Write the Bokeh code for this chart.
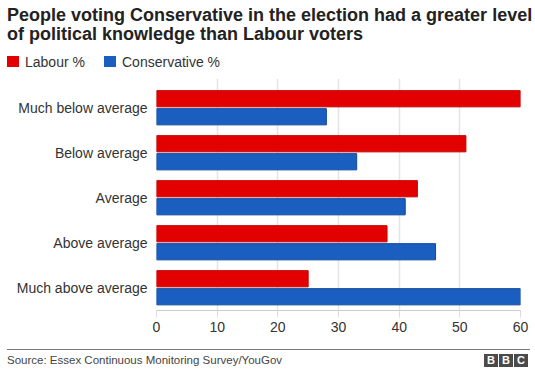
import numpy as np
from bokeh.plotting import figure
from bokeh.layouts import column
from bokeh.models import Range1d, FixedTicker, Div
from bokeh.embed import file_html
from bokeh.resources import INLINE

# ---- data ----
categories = ["Much below average", "Below average", "Average", "Above average", "Much above average"]
labour = [60, 51, 43, 38, 25]
conservative = [28, 33, 41, 46, 60]
x_ticks = [0, 10, 20, 30, 40, 50, 60]

title_lines = ["People voting Conservative in the election had a greater level",
               "of political knowledge than Labour voters"]
series_names = ["Labour %", "Conservative %"]
source_text = "Source: Essex Continuous Monitoring Survey/YouGov"
logo_letters = ["B", "B", "C"]

RED = "#e30000"
RED_EDGE = "#c40000"
BLUE = "#1a5ec0"
BLUE_EDGE = "#0f4a9e"
FONT = "Liberation Sans"
CSS_FONT = "'Liberation Sans', Arial, Helvetica, sans-serif"

W = 535
TOP_H = 70          # header block height
FIG_H = 270         # chart height
BOT_H = 38          # footer block height

FL, FR = 156, 520   # frame left/right (px)
FT, FB = 8, 240     # frame top/bottom inside chart figure (px)
Y0, YSTEP = 37.25, 45.0   # first category centre / spacing inside chart (px)
XMAX = 60

y_top = (FT - Y0) / YSTEP
y_bot = (FB - Y0) / YSTEP

# ---------------- header ----------------
legend_html = ""
for name, col, sq_left, tx in zip(series_names, [RED, BLUE], [7, 104], [25, 122]):
    legend_html += (f'<div style="position:absolute;left:{sq_left}px;top:56px;width:12px;height:11px;'
                    f'background:{col};"></div>'
                    f'<div style="position:absolute;left:{tx}px;top:54px;font-size:14px;line-height:16px;'
                    f'color:#333333;white-space:nowrap;">{name}</div>')

header_html = (f'<div style="position:relative;width:{W}px;height:{TOP_H}px;font-family:{CSS_FONT};">'
               f'<div style="position:absolute;left:7px;top:6px;font-size:18px;line-height:19px;'
               f'font-weight:bold;color:#222222;white-space:nowrap;">'
               f'{title_lines[0]}<br>{title_lines[1]}</div>'
               f'{legend_html}</div>')
header = Div(text=header_html, width=W, height=TOP_H, margin=0)

# ---------------- chart ----------------
p = figure(width=W, height=FIG_H, output_backend="svg", toolbar_location=None,
           x_range=Range1d(0, XMAX), y_range=Range1d(y_bot, y_top),
           min_border_left=FL, min_border_right=W - FR,
           min_border_top=FT, min_border_bottom=FIG_H - FB, margin=0)
p.outline_line_color = None
p.background_fill_color = "white"
p.border_fill_color = "white"

pos = np.arange(len(categories))
p.hbar(y=pos - 0.2, left=0, right=labour, height=0.36,
       fill_color=RED, line_color=RED_EDGE, line_width=1)
p.hbar(y=pos + 0.2, left=0, right=conservative, height=0.36,
       fill_color=BLUE, line_color=BLUE_EDGE, line_width=1)

p.xaxis.ticker = FixedTicker(ticks=x_ticks)
p.xaxis.axis_line_color = "#cccccc"
p.xaxis.major_tick_line_color = "#dddddd"
p.xaxis.major_tick_out = 7
p.xaxis.major_tick_in = 0
p.xaxis.minor_tick_line_color = None
p.xaxis.major_label_text_font = FONT
p.xaxis.major_label_text_font_size = "14px"
p.xaxis.major_label_text_color = "#333333"
p.xaxis.major_label_standoff = 4

p.yaxis.ticker = FixedTicker(ticks=list(pos))
p.yaxis.major_label_overrides = {int(i): c for i, c in zip(pos, categories)}
p.yaxis.axis_line_color = None
p.yaxis.major_tick_line_color = None
p.yaxis.minor_tick_line_color = None
p.yaxis.major_tick_out = 0
p.yaxis.major_tick_in = 0
p.yaxis.major_label_standoff = 9
p.yaxis.major_label_text_font = FONT
p.yaxis.major_label_text_font_size = "14px"
p.yaxis.major_label_text_color = "#333333"

p.xgrid.grid_line_color = "#e4e4e4"
p.xgrid.grid_line_width = 1.5
p.ygrid.grid_line_color = None

# ---------------- footer ----------------
logo_html = ""
for i, ch in enumerate(logo_letters):
    left = 484 + i * 15
    logo_html += (f'<div style="position:absolute;left:{left}px;top:14px;width:14px;height:13px;'
                  f'background:#4a4a4a;color:white;font-weight:bold;font-size:11px;line-height:13px;'
                  f'text-align:center;">{ch}</div>')

footer_html = (f'<div style="position:relative;width:{W}px;height:{BOT_H}px;font-family:{CSS_FONT};">'
               f'<div style="position:absolute;left:7px;top:9px;width:523px;height:1px;background:#777777;"></div>'
               f'<div style="position:absolute;left:7px;top:13px;font-size:11.5px;line-height:14px;'
               f'color:#444444;white-space:nowrap;">{source_text}</div>'
               f'{logo_html}</div>')
footer = Div(text=footer_html, width=W, height=BOT_H, margin=0)

layout = column(header, p, footer, spacing=0)
open("out.html", "w").write(file_html(layout, INLINE))
